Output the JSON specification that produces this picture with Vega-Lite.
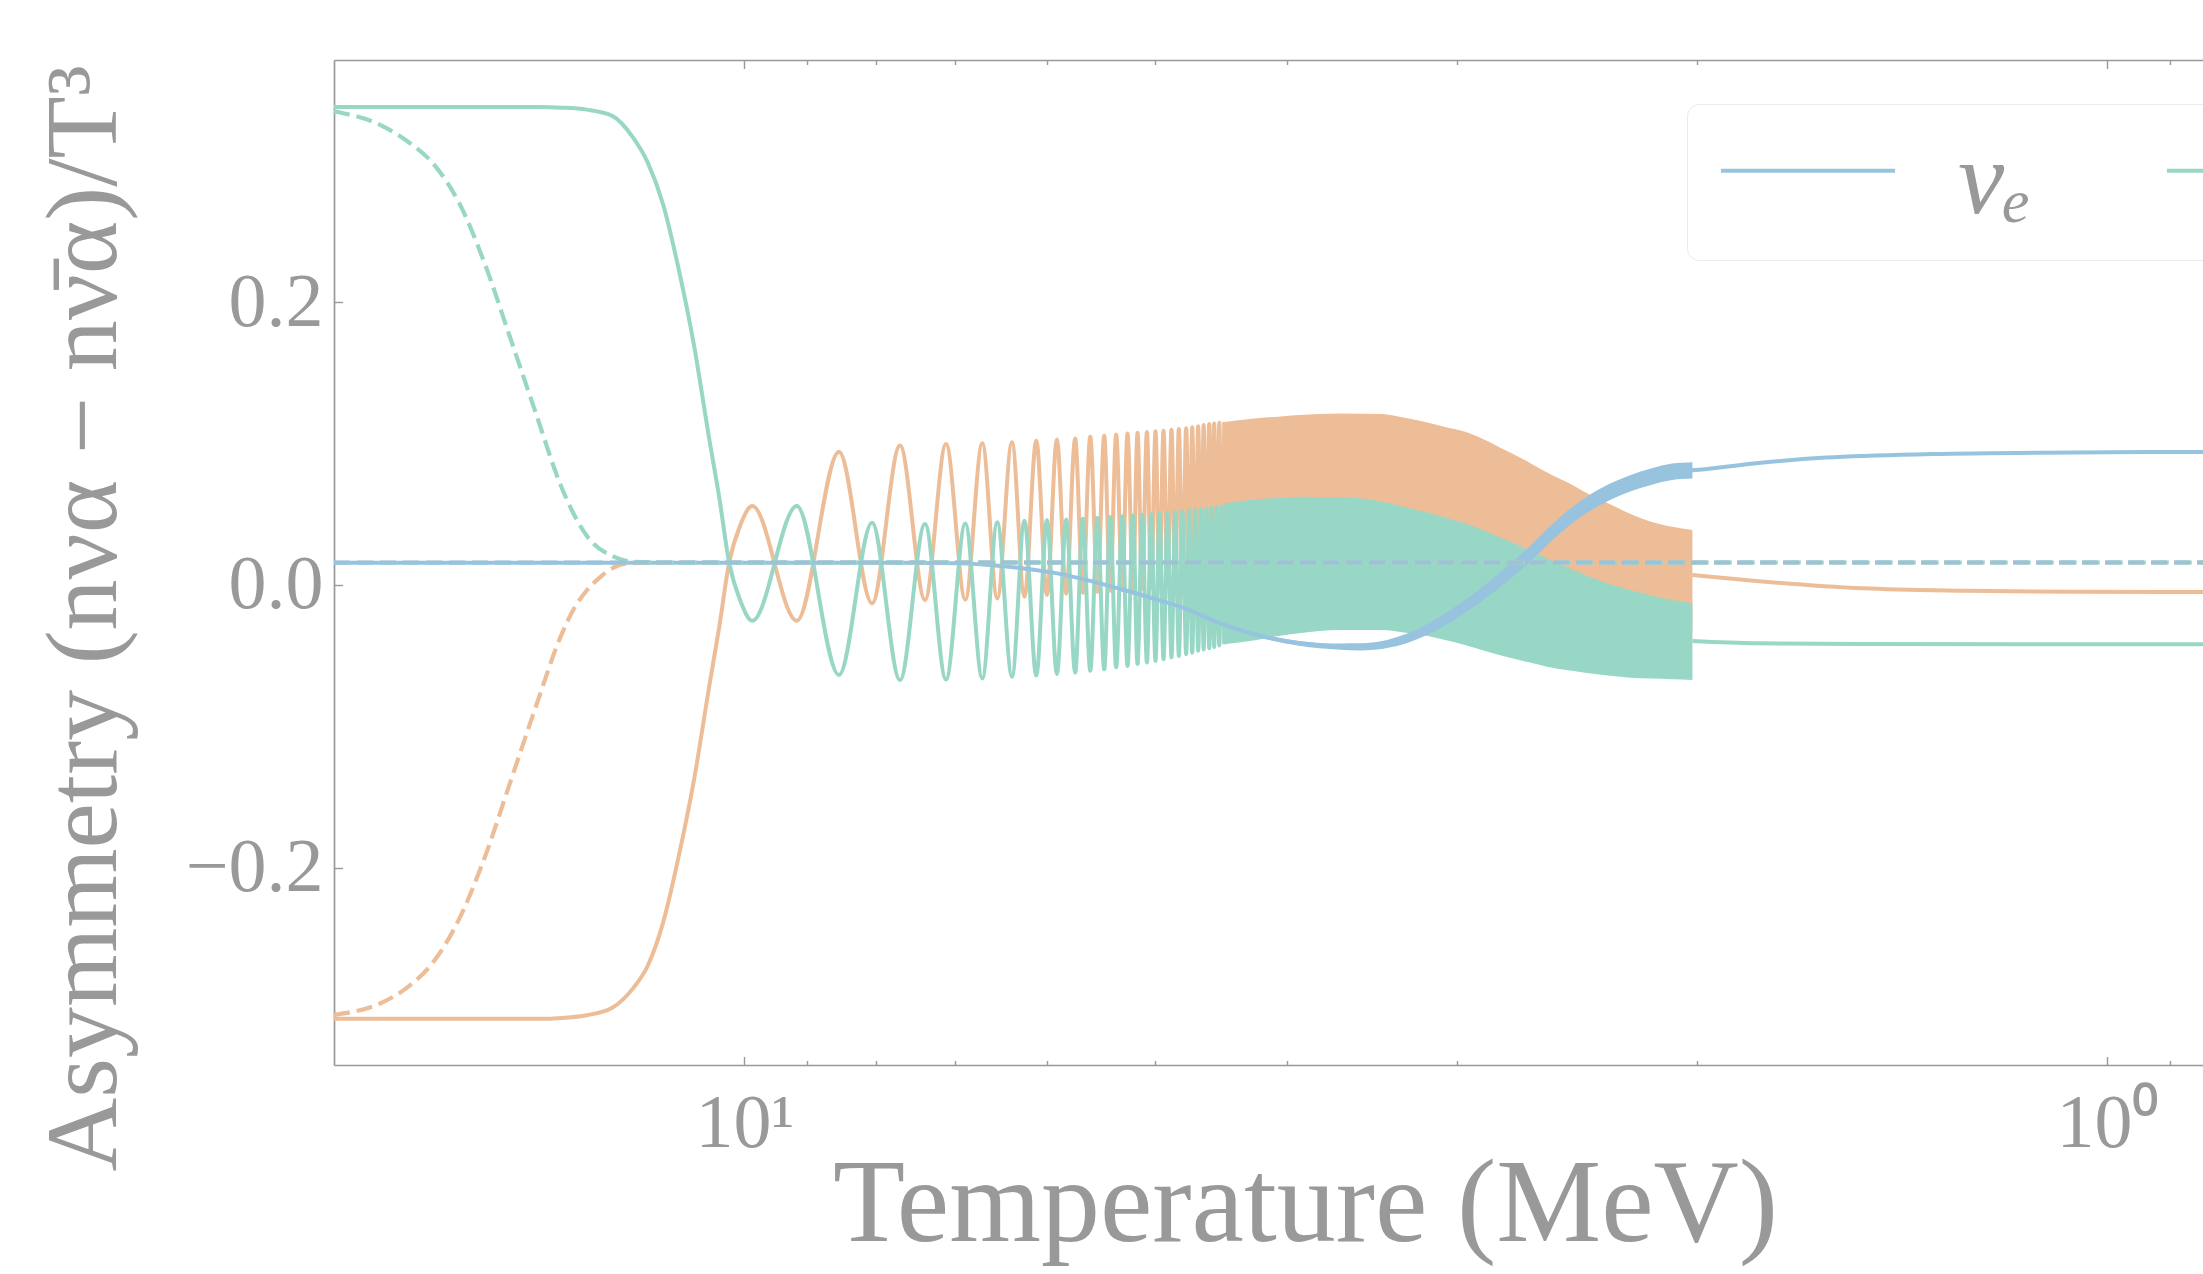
{
  "$schema": "https://vega.github.io/schema/vega-lite/v6.json",
  "autosize": {"type": "none"},
  "width": 1869,
  "height": 1005,
  "padding": {"left": 334, "top": 60, "right": 0, "bottom": 209},
  "background": "white",
  "config": {"view": {"stroke": null}, "font": "Liberation Serif"},
  "datasets": {
    "lines": [
      {"T":20,"A":-0.307,"nu":"ντ","run":"solid","seg":"a"},{"T":14.12,"A":-0.307,"nu":"ντ","run":"solid","seg":"a"},{"T":13.62,"A":-0.3064,"nu":"ντ","run":"solid","seg":"a"},{"T":13.05,"A":-0.3045,"nu":"ντ","run":"solid","seg":"a"},{"T":12.5,"A":-0.2992,"nu":"ντ","run":"solid","seg":"a"},{"T":12.07,"A":-0.2855,"nu":"ντ","run":"solid","seg":"a"},{"T":11.77,"A":-0.2693,"nu":"ντ","run":"solid","seg":"a"},{"T":11.47,"A":-0.2388,"nu":"ντ","run":"solid","seg":"a"},{"T":11.18,"A":-0.1933,"nu":"ντ","run":"solid","seg":"a"},{"T":10.89,"A":-0.1385,"nu":"ντ","run":"solid","seg":"a"},{"T":10.61,"A":-0.0716,"nu":"ντ","run":"solid","seg":"a"},{"T":10.43,"A":-0.029,"nu":"ντ","run":"solid","seg":"a"},{"T":10.26,"A":0.0157,"nu":"ντ","run":"solid","seg":"a"},{"T":10.07,"A":0.042,"nu":"ντ","run":"solid","seg":"a"},
      {"T":9.866,"A":0.0557,"nu":"ντ","run":"solid","seg":"a"},{"T":9.152,"A":-0.0254,"nu":"ντ","run":"solid","seg":"a"},{"T":8.522,"A":0.0942,"nu":"ντ","run":"solid","seg":"a"},{"T":8.06,"A":-0.0131,"nu":"ντ","run":"solid","seg":"a"},{"T":7.688,"A":0.0985,"nu":"ντ","run":"solid","seg":"a"},{"T":7.37,"A":-0.0107,"nu":"ντ","run":"solid","seg":"a"},{"T":7.113,"A":0.0996,"nu":"ντ","run":"solid","seg":"a"},{"T":6.885,"A":-0.0105,"nu":"ντ","run":"solid","seg":"a"},{"T":6.69,"A":0.1001,"nu":"ντ","run":"solid","seg":"a"},{"T":6.523,"A":-0.0096,"nu":"ντ","run":"solid","seg":"a"},{"T":6.363,"A":0.1008,"nu":"ντ","run":"solid","seg":"a"},{"T":6.23,"A":-0.0084,"nu":"ντ","run":"solid","seg":"a"},{"T":6.107,"A":0.102,"nu":"ντ","run":"solid","seg":"a"},{"T":5.998,"A":-0.0072,"nu":"ντ","run":"solid","seg":"a"},{"T":5.898,"A":0.1029,"nu":"ντ","run":"solid","seg":"a"},{"T":5.806,"A":-0.0062,"nu":"ντ","run":"solid","seg":"a"},{"T":5.719,"A":0.1036,"nu":"ντ","run":"solid","seg":"a"},{"T":5.645,"A":-0.0056,"nu":"ντ","run":"solid","seg":"a"},{"T":5.575,"A":0.1048,"nu":"ντ","run":"solid","seg":"a"},{"T":5.507,"A":-0.0049,"nu":"ντ","run":"solid","seg":"a"},{"T":5.445,"A":0.1055,"nu":"ντ","run":"solid","seg":"a"},{"T":5.39,"A":-0.0042,"nu":"ντ","run":"solid","seg":"a"},{"T":5.336,"A":0.1064,"nu":"ντ","run":"solid","seg":"a"},{"T":5.282,"A":-0.0037,"nu":"ντ","run":"solid","seg":"a"},{"T":5.235,"A":0.1071,"nu":"ντ","run":"solid","seg":"a"},{"T":5.187,"A":-0.0032,"nu":"ντ","run":"solid","seg":"a"},{"T":5.147,"A":0.1076,"nu":"ντ","run":"solid","seg":"a"},{"T":5.107,"A":-0.0027,"nu":"ντ","run":"solid","seg":"a"},{"T":5.066,"A":0.1081,"nu":"ντ","run":"solid","seg":"a"},{"T":5.03,"A":-0.0022,"nu":"ντ","run":"solid","seg":"a"},{"T":4.993,"A":0.1086,"nu":"ντ","run":"solid","seg":"a"},{"T":4.96,"A":-0.0017,"nu":"ντ","run":"solid","seg":"a"},{"T":4.926,"A":0.109,"nu":"ντ","run":"solid","seg":"a"},{"T":4.893,"A":-0.0012,"nu":"ντ","run":"solid","seg":"a"},{"T":4.86,"A":0.1098,"nu":"ντ","run":"solid","seg":"a"},{"T":4.83,"A":-0.0008,"nu":"ντ","run":"solid","seg":"a"},{"T":4.8,"A":0.1103,"nu":"ντ","run":"solid","seg":"a"},{"T":4.771,"A":-0.0004,"nu":"ντ","run":"solid","seg":"a"},{"T":4.741,"A":0.1108,"nu":"ντ","run":"solid","seg":"a"},{"T":4.717,"A":0.0,"nu":"ντ","run":"solid","seg":"a"},{"T":4.693,"A":0.1115,"nu":"ντ","run":"solid","seg":"a"},{"T":4.669,"A":0.0005,"nu":"ντ","run":"solid","seg":"a"},{"T":4.646,"A":0.1122,"nu":"ντ","run":"solid","seg":"a"},{"T":4.624,"A":0.001,"nu":"ντ","run":"solid","seg":"a"},{"T":4.603,"A":0.113,"nu":"ντ","run":"solid","seg":"a"},{"T":4.582,"A":0.0015,"nu":"ντ","run":"solid","seg":"a"},{"T":4.56,"A":0.1137,"nu":"ντ","run":"solid","seg":"a"},{"T":4.541,"A":0.002,"nu":"ντ","run":"solid","seg":"a"},{"T":4.522,"A":0.1142,"nu":"ντ","run":"solid","seg":"a"},{"T":4.502,"A":0.0025,"nu":"ντ","run":"solid","seg":"a"},{"T":4.483,"A":0.1147,"nu":"ντ","run":"solid","seg":"a"},{"T":4.464,"A":0.003,"nu":"ντ","run":"solid","seg":"a"},{"T":4.446,"A":0.1152,"nu":"ντ","run":"solid","seg":"a"},
      {"T":2.016,"A":0.0069,"nu":"ντ","run":"solid","seg":"b"},{"T":1.81,"A":0.0027,"nu":"ντ","run":"solid","seg":"b"},{"T":1.513,"A":-0.0025,"nu":"ντ","run":"solid","seg":"b"},{"T":1.268,"A":-0.0042,"nu":"ντ","run":"solid","seg":"b"},{"T":1.06,"A":-0.0049,"nu":"ντ","run":"solid","seg":"b"},{"T":0.851,"A":-0.0051,"nu":"ντ","run":"solid","seg":"b"},

      {"T":20,"A":0.338,"nu":"νμ","run":"solid","seg":"a"},{"T":14.12,"A":0.338,"nu":"νμ","run":"solid","seg":"a"},{"T":13.62,"A":0.3376,"nu":"νμ","run":"solid","seg":"a"},{"T":13.05,"A":0.3362,"nu":"νμ","run":"solid","seg":"a"},{"T":12.5,"A":0.3318,"nu":"νμ","run":"solid","seg":"a"},{"T":12.07,"A":0.3165,"nu":"νμ","run":"solid","seg":"a"},{"T":11.77,"A":0.2985,"nu":"νμ","run":"solid","seg":"a"},{"T":11.47,"A":0.269,"nu":"νμ","run":"solid","seg":"a"},{"T":11.18,"A":0.2245,"nu":"νμ","run":"solid","seg":"a"},{"T":10.89,"A":0.17,"nu":"νμ","run":"solid","seg":"a"},{"T":10.61,"A":0.103,"nu":"νμ","run":"solid","seg":"a"},{"T":10.43,"A":0.061,"nu":"νμ","run":"solid","seg":"a"},{"T":10.26,"A":0.0157,"nu":"νμ","run":"solid","seg":"a"},{"T":10.07,"A":-0.011,"nu":"νμ","run":"solid","seg":"a"},
      {"T":9.866,"A":-0.0254,"nu":"νμ","run":"solid","seg":"a"},{"T":9.152,"A":0.0557,"nu":"νμ","run":"solid","seg":"a"},{"T":8.522,"A":-0.0638,"nu":"νμ","run":"solid","seg":"a"},{"T":8.06,"A":0.0439,"nu":"νμ","run":"solid","seg":"a"},{"T":7.688,"A":-0.0674,"nu":"νμ","run":"solid","seg":"a"},{"T":7.37,"A":0.043,"nu":"νμ","run":"solid","seg":"a"},{"T":7.113,"A":-0.067,"nu":"νμ","run":"solid","seg":"a"},{"T":6.885,"A":0.0434,"nu":"νμ","run":"solid","seg":"a"},{"T":6.69,"A":-0.0662,"nu":"νμ","run":"solid","seg":"a"},{"T":6.523,"A":0.0442,"nu":"νμ","run":"solid","seg":"a"},{"T":6.363,"A":-0.065,"nu":"νμ","run":"solid","seg":"a"},{"T":6.23,"A":0.0454,"nu":"νμ","run":"solid","seg":"a"},{"T":6.107,"A":-0.0642,"nu":"νμ","run":"solid","seg":"a"},{"T":5.998,"A":0.0458,"nu":"νμ","run":"solid","seg":"a"},{"T":5.898,"A":-0.063,"nu":"νμ","run":"solid","seg":"a"},{"T":5.806,"A":0.0463,"nu":"νμ","run":"solid","seg":"a"},{"T":5.719,"A":-0.0621,"nu":"νμ","run":"solid","seg":"a"},{"T":5.645,"A":0.0468,"nu":"νμ","run":"solid","seg":"a"},{"T":5.575,"A":-0.0607,"nu":"νμ","run":"solid","seg":"a"},{"T":5.507,"A":0.0473,"nu":"νμ","run":"solid","seg":"a"},{"T":5.445,"A":-0.0598,"nu":"νμ","run":"solid","seg":"a"},{"T":5.39,"A":0.0478,"nu":"νμ","run":"solid","seg":"a"},{"T":5.336,"A":-0.0583,"nu":"νμ","run":"solid","seg":"a"},{"T":5.282,"A":0.0485,"nu":"νμ","run":"solid","seg":"a"},{"T":5.235,"A":-0.0574,"nu":"νμ","run":"solid","seg":"a"},{"T":5.187,"A":0.049,"nu":"νμ","run":"solid","seg":"a"},{"T":5.147,"A":-0.056,"nu":"νμ","run":"solid","seg":"a"},{"T":5.107,"A":0.0495,"nu":"νμ","run":"solid","seg":"a"},{"T":5.066,"A":-0.055,"nu":"νμ","run":"solid","seg":"a"},{"T":5.03,"A":0.05,"nu":"νμ","run":"solid","seg":"a"},{"T":4.993,"A":-0.0539,"nu":"νμ","run":"solid","seg":"a"},{"T":4.96,"A":0.0505,"nu":"νμ","run":"solid","seg":"a"},{"T":4.926,"A":-0.0527,"nu":"νμ","run":"solid","seg":"a"},{"T":4.893,"A":0.051,"nu":"νμ","run":"solid","seg":"a"},{"T":4.86,"A":-0.0513,"nu":"νμ","run":"solid","seg":"a"},{"T":4.83,"A":0.0515,"nu":"νμ","run":"solid","seg":"a"},{"T":4.8,"A":-0.0504,"nu":"νμ","run":"solid","seg":"a"},{"T":4.771,"A":0.052,"nu":"νμ","run":"solid","seg":"a"},{"T":4.741,"A":-0.049,"nu":"νμ","run":"solid","seg":"a"},{"T":4.717,"A":0.0525,"nu":"νμ","run":"solid","seg":"a"},{"T":4.693,"A":-0.0481,"nu":"νμ","run":"solid","seg":"a"},{"T":4.669,"A":0.053,"nu":"νμ","run":"solid","seg":"a"},{"T":4.646,"A":-0.0466,"nu":"νμ","run":"solid","seg":"a"},{"T":4.624,"A":0.0535,"nu":"νμ","run":"solid","seg":"a"},{"T":4.603,"A":-0.0457,"nu":"νμ","run":"solid","seg":"a"},{"T":4.582,"A":0.054,"nu":"νμ","run":"solid","seg":"a"},{"T":4.56,"A":-0.0448,"nu":"νμ","run":"solid","seg":"a"},{"T":4.541,"A":0.0545,"nu":"νμ","run":"solid","seg":"a"},{"T":4.522,"A":-0.0439,"nu":"νμ","run":"solid","seg":"a"},{"T":4.502,"A":0.055,"nu":"νμ","run":"solid","seg":"a"},{"T":4.483,"A":-0.0429,"nu":"νμ","run":"solid","seg":"a"},{"T":4.464,"A":0.0555,"nu":"νμ","run":"solid","seg":"a"},{"T":4.446,"A":-0.042,"nu":"νμ","run":"solid","seg":"a"},
      {"T":2.016,"A":-0.0398,"nu":"νμ","run":"solid","seg":"b"},{"T":1.81,"A":-0.0414,"nu":"νμ","run":"solid","seg":"b"},{"T":1.513,"A":-0.0419,"nu":"νμ","run":"solid","seg":"b"},{"T":0.851,"A":-0.042,"nu":"νμ","run":"solid","seg":"b"},

      {"T":20,"A":0.0157,"nu":"νₑ","run":"solid","seg":"a"},{"T":12.76,"A":0.0157,"nu":"νₑ","run":"solid","seg":"a"},{"T":7.688,"A":0.0157,"nu":"νₑ","run":"solid","seg":"a"},{"T":6.982,"A":0.0152,"nu":"νₑ","run":"solid","seg":"a"},{"T":6.603,"A":0.014,"nu":"νₑ","run":"solid","seg":"a"},{"T":6.244,"A":0.0116,"nu":"νₑ","run":"solid","seg":"a"},{"T":5.895,"A":0.0081,"nu":"νₑ","run":"solid","seg":"a"},{"T":5.575,"A":0.0028,"nu":"νₑ","run":"solid","seg":"a"},{"T":5.274,"A":-0.0035,"nu":"νₑ","run":"solid","seg":"a"},{"T":4.979,"A":-0.0105,"nu":"νₑ","run":"solid","seg":"a"},{"T":4.71,"A":-0.018,"nu":"νₑ","run":"solid","seg":"a"},{"T":4.508,"A":-0.0261,"nu":"νₑ","run":"solid","seg":"a"},{"T":4.206,"A":-0.0355,"nu":"νₑ","run":"solid","seg":"a"},{"T":3.918,"A":-0.0414,"nu":"νₑ","run":"solid","seg":"a"},{"T":3.655,"A":-0.0437,"nu":"νₑ","run":"solid","seg":"a"},{"T":3.528,"A":-0.0439,"nu":"νₑ","run":"solid","seg":"a"},{"T":3.405,"A":-0.0426,"nu":"νₑ","run":"solid","seg":"a"},{"T":3.292,"A":-0.039,"nu":"νₑ","run":"solid","seg":"a"},{"T":3.178,"A":-0.0331,"nu":"νₑ","run":"solid","seg":"a"},{"T":3.067,"A":-0.0249,"nu":"νₑ","run":"solid","seg":"a"},{"T":2.96,"A":-0.0154,"nu":"νₑ","run":"solid","seg":"a"},{"T":2.861,"A":-0.0048,"nu":"νₑ","run":"solid","seg":"a"},{"T":2.762,"A":0.0069,"nu":"νₑ","run":"solid","seg":"a"},{"T":2.666,"A":0.0199,"nu":"νₑ","run":"solid","seg":"a"},{"T":2.575,"A":0.034,"nu":"νₑ","run":"solid","seg":"a"},{"T":2.487,"A":0.047,"nu":"νₑ","run":"solid","seg":"a"},{"T":2.401,"A":0.0576,"nu":"νₑ","run":"solid","seg":"a"},{"T":2.317,"A":0.0659,"nu":"νₑ","run":"solid","seg":"a"},{"T":2.24,"A":0.0718,"nu":"νₑ","run":"solid","seg":"a"},{"T":2.162,"A":0.0765,"nu":"νₑ","run":"solid","seg":"a"},{"T":2.086,"A":0.08,"nu":"νₑ","run":"solid","seg":"a"},{"T":2.016,"A":0.081,"nu":"νₑ","run":"solid","seg":"a"},{"T":1.81,"A":0.086,"nu":"νₑ","run":"solid","seg":"a"},{"T":1.608,"A":0.09,"nu":"νₑ","run":"solid","seg":"a"},{"T":1.345,"A":0.0925,"nu":"νₑ","run":"solid","seg":"a"},{"T":1.124,"A":0.0935,"nu":"νₑ","run":"solid","seg":"a"},{"T":0.851,"A":0.094,"nu":"νₑ","run":"solid","seg":"a"},

      {"T":20,"A":-0.3043,"nu":"ντ","run":"dashed","seg":"a"},{"T":18.41,"A":-0.2952,"nu":"ντ","run":"dashed","seg":"a"},{"T":17.65,"A":-0.2845,"nu":"ντ","run":"dashed","seg":"a"},{"T":16.89,"A":-0.2662,"nu":"ντ","run":"dashed","seg":"a"},{"T":16.19,"A":-0.2365,"nu":"ντ","run":"dashed","seg":"a"},{"T":15.5,"A":-0.1925,"nu":"ντ","run":"dashed","seg":"a"},{"T":14.86,"A":-0.1405,"nu":"ντ","run":"dashed","seg":"a"},{"T":14.22,"A":-0.086,"nu":"ντ","run":"dashed","seg":"a"},{"T":13.63,"A":-0.036,"nu":"ντ","run":"dashed","seg":"a"},{"T":13.33,"A":-0.0166,"nu":"ντ","run":"dashed","seg":"a"},{"T":13.05,"A":-0.004,"nu":"ντ","run":"dashed","seg":"a"},{"T":12.75,"A":0.0057,"nu":"ντ","run":"dashed","seg":"a"},{"T":12.4,"A":0.0133,"nu":"ντ","run":"dashed","seg":"a"},{"T":12.12,"A":0.0152,"nu":"ντ","run":"dashed","seg":"a"},{"T":11.53,"A":0.0158,"nu":"ντ","run":"dashed","seg":"a"},{"T":0.851,"A":0.0158,"nu":"ντ","run":"dashed","seg":"a"},

      {"T":20,"A":0.335,"nu":"νμ","run":"dashed","seg":"a"},{"T":18.41,"A":0.3244,"nu":"νμ","run":"dashed","seg":"a"},{"T":17.65,"A":0.3135,"nu":"νμ","run":"dashed","seg":"a"},{"T":16.89,"A":0.2973,"nu":"νμ","run":"dashed","seg":"a"},{"T":16.19,"A":0.2702,"nu":"νμ","run":"dashed","seg":"a"},{"T":15.5,"A":0.2269,"nu":"νμ","run":"dashed","seg":"a"},{"T":14.86,"A":0.1755,"nu":"νμ","run":"dashed","seg":"a"},{"T":14.22,"A":0.1213,"nu":"νμ","run":"dashed","seg":"a"},{"T":13.63,"A":0.0699,"nu":"νμ","run":"dashed","seg":"a"},{"T":13.05,"A":0.0347,"nu":"νμ","run":"dashed","seg":"a"},{"T":12.47,"A":0.0199,"nu":"νμ","run":"dashed","seg":"a"},{"T":12.07,"A":0.0163,"nu":"νμ","run":"dashed","seg":"a"},{"T":11.53,"A":0.0158,"nu":"νμ","run":"dashed","seg":"a"},{"T":0.851,"A":0.0158,"nu":"νμ","run":"dashed","seg":"a"},

      {"T":20,"A":0.0158,"nu":"νₑ","run":"dashed","seg":"a"},{"T":0.851,"A":0.0158,"nu":"νₑ","run":"dashed","seg":"a"}
    ],
    "bands": [
      {"T":4.446,"lo":0.0375,"hi":0.1152,"nu":"ντ"},{"T":4.206,"lo":0.0405,"hi":0.1178,"nu":"ντ"},{"T":4.059,"lo":0.0415,"hi":0.119,"nu":"ντ"},{"T":3.918,"lo":0.0424,"hi":0.1201,"nu":"ντ"},{"T":3.655,"lo":0.0419,"hi":0.1213,"nu":"ντ"},{"T":3.405,"lo":0.0388,"hi":0.1208,"nu":"ντ"},{"T":3.292,"lo":0.0355,"hi":0.1185,"nu":"ντ"},{"T":3.178,"lo":0.0318,"hi":0.1155,"nu":"ντ"},{"T":3.067,"lo":0.0278,"hi":0.1119,"nu":"ντ"},{"T":2.96,"lo":0.0235,"hi":0.1083,"nu":"ντ"},{"T":2.861,"lo":0.018,"hi":0.1025,"nu":"ντ"},{"T":2.762,"lo":0.0117,"hi":0.095,"nu":"ντ"},{"T":2.666,"lo":0.0052,"hi":0.0875,"nu":"ντ"},{"T":2.577,"lo":-0.0013,"hi":0.0795,"nu":"ντ"},{"T":2.487,"lo":-0.008,"hi":0.0722,"nu":"ντ"},{"T":2.401,"lo":-0.0143,"hi":0.064,"nu":"ντ"},{"T":2.317,"lo":-0.0195,"hi":0.057,"nu":"ντ"},{"T":2.24,"lo":-0.0237,"hi":0.0503,"nu":"ντ"},{"T":2.162,"lo":-0.0275,"hi":0.0446,"nu":"ντ"},{"T":2.086,"lo":-0.0307,"hi":0.0411,"nu":"ντ"},{"T":2.016,"lo":-0.0331,"hi":0.0388,"nu":"ντ"},

      {"T":4.446,"lo":-0.042,"hi":0.0575,"nu":"νμ"},{"T":4.206,"lo":-0.039,"hi":0.0605,"nu":"νμ"},{"T":4.059,"lo":-0.0362,"hi":0.0615,"nu":"νμ"},{"T":3.918,"lo":-0.0343,"hi":0.0624,"nu":"νμ"},{"T":3.655,"lo":-0.032,"hi":0.0619,"nu":"νμ"},{"T":3.405,"lo":-0.032,"hi":0.0588,"nu":"νμ"},{"T":3.292,"lo":-0.0335,"hi":0.0555,"nu":"νμ"},{"T":3.178,"lo":-0.0355,"hi":0.0518,"nu":"νμ"},{"T":3.067,"lo":-0.0388,"hi":0.0478,"nu":"νμ"},{"T":2.96,"lo":-0.0426,"hi":0.0435,"nu":"νμ"},{"T":2.861,"lo":-0.0468,"hi":0.038,"nu":"νμ"},{"T":2.762,"lo":-0.0509,"hi":0.0317,"nu":"νμ"},{"T":2.666,"lo":-0.0545,"hi":0.0252,"nu":"νμ"},{"T":2.577,"lo":-0.0579,"hi":0.0187,"nu":"νμ"},{"T":2.487,"lo":-0.0605,"hi":0.012,"nu":"νμ"},{"T":2.401,"lo":-0.0626,"hi":0.0057,"nu":"νμ"},{"T":2.317,"lo":-0.0643,"hi":0.0005,"nu":"νμ"},{"T":2.24,"lo":-0.0657,"hi":-0.0037,"nu":"νμ"},{"T":2.162,"lo":-0.0663,"hi":-0.0075,"nu":"νμ"},{"T":2.086,"lo":-0.0668,"hi":-0.0107,"nu":"νμ"},{"T":2.016,"lo":-0.0673,"hi":-0.0131,"nu":"νμ"},

      {"T":4.508,"lo":-0.0265,"hi":-0.0257,"nu":"νₑ"},{"T":4.206,"lo":-0.0366,"hi":-0.0344,"nu":"νₑ"},{"T":3.918,"lo":-0.0431,"hi":-0.0397,"nu":"νₑ"},{"T":3.655,"lo":-0.0459,"hi":-0.0415,"nu":"νₑ"},{"T":3.528,"lo":-0.0464,"hi":-0.0414,"nu":"νₑ"},{"T":3.405,"lo":-0.0454,"hi":-0.0398,"nu":"νₑ"},{"T":3.292,"lo":-0.0423,"hi":-0.0357,"nu":"νₑ"},{"T":3.178,"lo":-0.0368,"hi":-0.0294,"nu":"νₑ"},{"T":3.067,"lo":-0.0291,"hi":-0.0207,"nu":"νₑ"},{"T":2.96,"lo":-0.02,"hi":-0.0108,"nu":"νₑ"},{"T":2.861,"lo":-0.0097,"hi":0.0001,"nu":"νₑ"},{"T":2.762,"lo":0.0016,"hi":0.0122,"nu":"νₑ"},{"T":2.666,"lo":0.0144,"hi":0.0254,"nu":"νₑ"},{"T":2.575,"lo":0.0284,"hi":0.0396,"nu":"νₑ"},{"T":2.487,"lo":0.0413,"hi":0.0527,"nu":"νₑ"},{"T":2.401,"lo":0.0518,"hi":0.0634,"nu":"νₑ"},{"T":2.317,"lo":0.0601,"hi":0.0717,"nu":"νₑ"},{"T":2.24,"lo":0.0660,"hi":0.0776,"nu":"νₑ"},{"T":2.162,"lo":0.0707,"hi":0.0823,"nu":"νₑ"},{"T":2.086,"lo":0.0742,"hi":0.0858,"nu":"νₑ"},{"T":2.016,"lo":0.0752,"hi":0.0868,"nu":"νₑ"}
    ]
  },
  "resolve": {"axis": {"x": "independent", "y": "independent"}, "legend": {"color": "independent"}},
  "layer": [
    {
      "data": {"name": "lines"},
      "transform": [{"filter": "datum.nu == 'ντ' && datum.run == 'solid'"}],
      "mark": {"type": "line", "interpolate": "monotone", "strokeWidth": 4},
      "encoding": {
        "x": {"field": "T", "type": "quantitative",
          "scale": {"type": "log", "domain": [0.851, 20], "reverse": true, "nice": false, "zero": false},
          "axis": {
            "orient": "bottom",
            "values": [10, 9, 8, 7, 6, 5, 4, 3, 2, 1, 0.9],
            "labelExpr": "datum.value == 10 ? '10¹' : (datum.value == 1 ? '10⁰' : '')",
            "tickSize": {"condition": {"test": "datum.value == 10 || datum.value == 1", "value": -8.5}, "value": -4.5},
            "tickColor": "#999999", "tickWidth": 1.4,
            "domainColor": "#999999", "domainWidth": 1.7,
            "labelColor": "#999999", "labelFont": "Liberation Serif", "labelFontSize": 76,
            "labelBaseline": "alphabetic", "labelPadding": 89.5, "labelOverlap": false, "labelFlush": false,
            "grid": false,
            "title": "Temperature (MeV)", "titleFont": "Liberation Serif", "titleFontSize": 118, "titleFontWeight": "normal",
            "titleColor": "#999999", "titleX": 971, "titleY": 175, "titleBaseline": "alphabetic", "titleAlign": "center"
          }},
        "y": {"field": "A", "type": "quantitative",
          "scale": {"domain": [-0.3397, 0.3713], "nice": false, "zero": false},
          "axis": {
            "orient": "left",
            "values": [-0.2, 0, 0.2], "format": ".1f",
            "tickSize": -8.5, "tickColor": "#999999", "tickWidth": 1.4,
            "domainColor": "#999999", "domainWidth": 1.7,
            "labelColor": "#999999", "labelFont": "Liberation Serif", "labelFontSize": 76,
            "labelPadding": 19.5, "labelBaseline": "middle", "grid": false,
            "title": "Asymmetry (nνα − nν̄α)/T³", "titleFont": "Liberation Serif", "titleFontSize": 102, "titleFontWeight": "normal",
            "titleColor": "#999999", "titleAngle": 270, "titleX": -219, "titleY": 558, "titleBaseline": "alphabetic", "titleAlign": "center"
          }},
        "color": {"field": "nu", "type": "nominal", "scale": {"domain": ["νₑ", "νμ", "ντ"], "range": ["#97c3de", "#98d7c5", "#ecbd97"]}, "legend": null},
        "detail": {"field": "seg"}
      }
    },
    {
      "data": {"name": "bands"},
      "transform": [{"filter": "datum.nu == 'ντ'"}],
      "mark": {"type": "area", "interpolate": "monotone"},
      "encoding": {
        "x": {"field": "T", "type": "quantitative",
          "scale": {"type": "log", "domain": [0.851, 20], "reverse": true, "nice": false, "zero": false},
          "axis": {
            "orient": "top",
            "values": [10, 9, 8, 7, 6, 5, 4, 3, 2, 1, 0.9],
            "labels": false,
            "tickSize": {"condition": {"test": "datum.value == 10 || datum.value == 1", "value": -8.5}, "value": -4.5},
            "tickColor": "#999999", "tickWidth": 1.4,
            "domainColor": "#999999", "domainWidth": 1.7, "grid": false, "title": null
          }},
        "y": {"field": "hi", "type": "quantitative", "scale": {"domain": [-0.3397, 0.3713], "nice": false, "zero": false}, "axis": null},
        "y2": {"field": "lo"},
        "color": {"field": "nu", "type": "nominal", "scale": {"domain": ["νₑ", "νμ", "ντ"], "range": ["#97c3de", "#98d7c5", "#ecbd97"]}, "legend": null}
      }
    },
    {
      "data": {"name": "lines"},
      "transform": [{"filter": "datum.nu == 'νμ' && datum.run == 'solid'"}],
      "mark": {"type": "line", "interpolate": "monotone", "strokeWidth": 4},
      "encoding": {
        "x": {"field": "T", "type": "quantitative", "scale": {"type": "log", "domain": [0.851, 20], "reverse": true, "nice": false, "zero": false}, "axis": null},
        "y": {"field": "A", "type": "quantitative", "scale": {"domain": [-0.3397, 0.3713], "nice": false, "zero": false}, "axis": null},
        "color": {"field": "nu", "type": "nominal", "scale": {"domain": ["νₑ", "νμ", "ντ"], "range": ["#97c3de", "#98d7c5", "#ecbd97"]}, "legend": null},
        "detail": {"field": "seg"}
      }
    },
    {
      "data": {"name": "bands"},
      "transform": [{"filter": "datum.nu == 'νμ'"}],
      "mark": {"type": "area", "interpolate": "monotone"},
      "encoding": {
        "x": {"field": "T", "type": "quantitative", "scale": {"type": "log", "domain": [0.851, 20], "reverse": true, "nice": false, "zero": false}, "axis": null},
        "y": {"field": "hi", "type": "quantitative", "scale": {"domain": [-0.3397, 0.3713], "nice": false, "zero": false}, "axis": null},
        "y2": {"field": "lo"},
        "color": {"field": "nu", "type": "nominal", "scale": {"domain": ["νₑ", "νμ", "ντ"], "range": ["#97c3de", "#98d7c5", "#ecbd97"]}, "legend": null}
      }
    },
    {
      "data": {"name": "lines"},
      "transform": [{"filter": "datum.nu == 'νₑ' && datum.run == 'solid'"}],
      "mark": {"type": "line", "interpolate": "monotone", "strokeWidth": 4},
      "encoding": {
        "x": {"field": "T", "type": "quantitative", "scale": {"type": "log", "domain": [0.851, 20], "reverse": true, "nice": false, "zero": false}, "axis": null},
        "y": {"field": "A", "type": "quantitative", "scale": {"domain": [-0.3397, 0.3713], "nice": false, "zero": false}, "axis": null},
        "color": {"field": "nu", "type": "nominal", "scale": {"domain": ["νₑ", "νμ", "ντ"], "range": ["#97c3de", "#98d7c5", "#ecbd97"]},
          "legend": {
            "orient": "none", "legendX": 1353, "legendY": 44, "direction": "horizontal", "title": null,
            "symbolType": "M-10,-1.3H10", "symbolSize": 303, "symbolStrokeWidth": 4, "symbolOffset": 43,
            "labelOffset": 98, "labelFont": "Liberation Serif", "labelFontStyle": "italic", "labelFontSize": 104,
            "labelColor": "#999999", "columnPadding": 126, "padding": 26, "cornerRadius": 12,
            "strokeColor": "#ebebeb", "fillColor": "#ffffff"
          }},
        "detail": {"field": "seg"}
      }
    },
    {
      "data": {"name": "bands"},
      "transform": [{"filter": "datum.nu == 'νₑ'"}],
      "mark": {"type": "area", "interpolate": "monotone"},
      "encoding": {
        "x": {"field": "T", "type": "quantitative", "scale": {"type": "log", "domain": [0.851, 20], "reverse": true, "nice": false, "zero": false}, "axis": null},
        "y": {"field": "hi", "type": "quantitative", "scale": {"domain": [-0.3397, 0.3713], "nice": false, "zero": false}, "axis": null},
        "y2": {"field": "lo"},
        "color": {"field": "nu", "type": "nominal", "scale": {"domain": ["νₑ", "νμ", "ντ"], "range": ["#97c3de", "#98d7c5", "#ecbd97"]}, "legend": null}
      }
    },
    {
      "data": {"name": "lines"},
      "transform": [{"filter": "datum.nu == 'ντ' && datum.run == 'dashed'"}],
      "mark": {"type": "line", "interpolate": "monotone", "strokeWidth": 4.2, "strokeDash": [16, 7]},
      "encoding": {
        "x": {"field": "T", "type": "quantitative", "scale": {"type": "log", "domain": [0.851, 20], "reverse": true, "nice": false, "zero": false}, "axis": null},
        "y": {"field": "A", "type": "quantitative", "scale": {"domain": [-0.3397, 0.3713], "nice": false, "zero": false}, "axis": null},
        "color": {"field": "nu", "type": "nominal", "scale": {"domain": ["νₑ", "νμ", "ντ"], "range": ["#97c3de", "#98d7c5", "#ecbd97"]}, "legend": null}
      }
    },
    {
      "data": {"name": "lines"},
      "transform": [{"filter": "datum.nu == 'νμ' && datum.run == 'dashed'"}],
      "mark": {"type": "line", "interpolate": "monotone", "strokeWidth": 4.2, "strokeDash": [16, 7]},
      "encoding": {
        "x": {"field": "T", "type": "quantitative", "scale": {"type": "log", "domain": [0.851, 20], "reverse": true, "nice": false, "zero": false}, "axis": null},
        "y": {"field": "A", "type": "quantitative", "scale": {"domain": [-0.3397, 0.3713], "nice": false, "zero": false}, "axis": null},
        "color": {"field": "nu", "type": "nominal", "scale": {"domain": ["νₑ", "νμ", "ντ"], "range": ["#97c3de", "#98d7c5", "#ecbd97"]}, "legend": null}
      }
    },
    {
      "data": {"name": "lines"},
      "transform": [{"filter": "datum.nu == 'νₑ' && datum.run == 'dashed'"}],
      "mark": {"type": "line", "interpolate": "monotone", "strokeWidth": 4.2, "strokeDash": [16, 7]},
      "encoding": {
        "x": {"field": "T", "type": "quantitative", "scale": {"type": "log", "domain": [0.851, 20], "reverse": true, "nice": false, "zero": false}, "axis": null},
        "y": {"field": "A", "type": "quantitative", "scale": {"domain": [-0.3397, 0.3713], "nice": false, "zero": false}, "axis": null},
        "color": {"field": "nu", "type": "nominal", "scale": {"domain": ["νₑ", "νμ", "ντ"], "range": ["#97c3de", "#98d7c5", "#ecbd97"]}, "legend": null}
      }
    }
  ]
}
